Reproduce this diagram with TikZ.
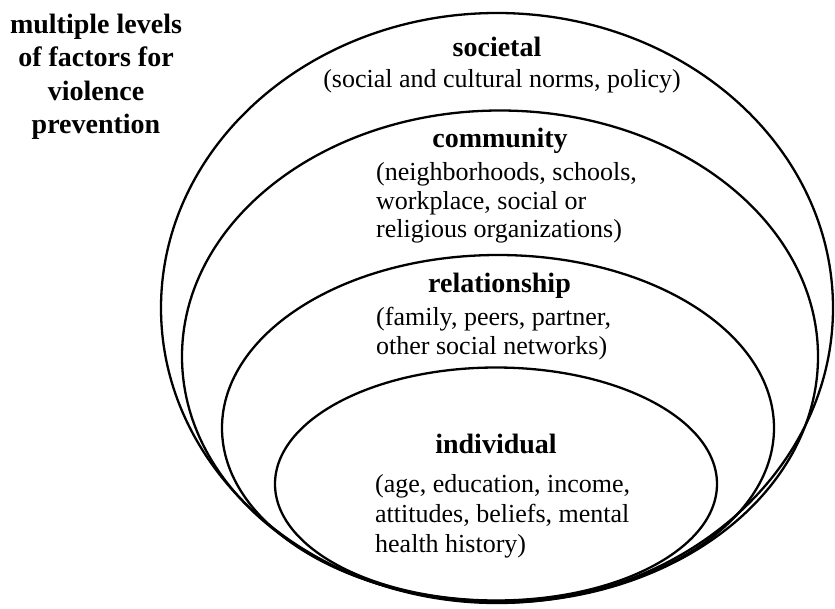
\documentclass[tikz,border=0pt]{standalone}
\usepackage{fontspec}
\setmainfont{Liberation Serif}
\usetikzlibrary{shapes.geometric}
\begin{document}
\begin{tikzpicture}[x=1pt,y=-1pt,
  ring/.style={ellipse,draw=black,line width=2.3pt,inner sep=0pt},
  head/.style={font=\fontsize{28}{32}\selectfont\bfseries,anchor=base,inner sep=0pt},
  desc/.style={font=\fontsize{26}{30}\selectfont,anchor=base west,inner sep=0pt},
  ttl/.style={font=\fontsize{28}{32}\selectfont\bfseries,anchor=base,inner sep=0pt}]
\useasboundingbox (0,0) rectangle (835,608);
\fill[white] (0,0) rectangle (835,608);
% ellipses
\node[ring,minimum width=672pt,minimum height=590pt] (soc) at (497,308) {};
\node[ring,minimum width=636pt,minimum height=492pt] (com) at (500,356.5) {};
\node[ring,minimum width=552pt,minimum height=346pt] (rel) at (498,428) {};
\node[ring,minimum width=442pt,minimum height=233pt] (ind) at (496,484) {};
% title
\node[ttl] (t1) at (96,33) {multiple levels};
\node[ttl] (t2) at (96,66) {of factors for};
\node[ttl] (t3) at (96,100) {violence};
\node[ttl] (t4) at (96,133) {prevention};
% societal
\node[head] (sh) at (497,56) {societal};
\node[font=\fontsize{26}{30}\selectfont,anchor=base,inner sep=0pt] (sd) at (502,87) {(social and cultural norms, policy)};
% community
\node[head] (ch) at (500,147) {community};
\node[desc] (cd1) at (376,180) {(neighborhoods, schools,};
\node[desc] (cd2) at (376,209) {workplace, social or};
\node[desc] (cd3) at (376,237) {religious organizations)};
% relationship
\node[head] (rh) at (499.5,292) {relationship};
\node[desc] (rd1) at (376,325) {(family, peers, partner,};
\node[desc] (rd2) at (376,354) {other social networks)};
% individual
\node[head] (ih) at (496,453) {individual};
\node[desc] (id1) at (375,492) {(age, education, income,};
\node[desc] (id2) at (375,522) {attitudes, beliefs, mental};
\node[desc] (id3) at (375,552) {health history)};
\end{tikzpicture}
\end{document}
